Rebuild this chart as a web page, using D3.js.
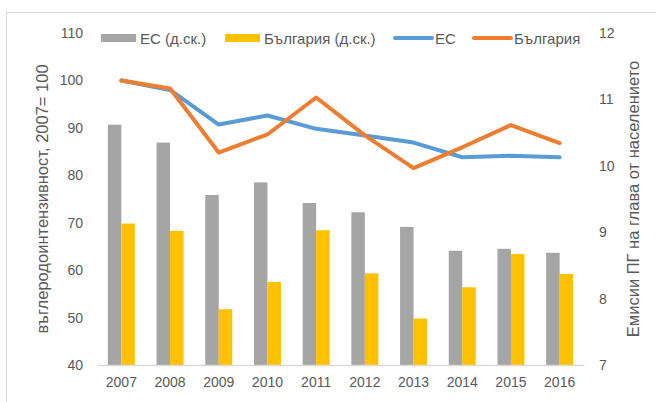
<!DOCTYPE html>
<html><head><meta charset="utf-8">
<script src="https://cdn.jsdelivr.net/npm/d3@7"></script>
<style>
html,body{margin:0;padding:0;background:#fff;}
svg{display:block;font-family:"Liberation Sans",Arial,sans-serif;}
</style></head>
<body>
<svg id="chart" width="656" height="402"></svg>
<script>
const years = ["2007","2008","2009","2010","2011","2012","2013","2014","2015","2016"];
// bars, right scale (t per capita)
const euBars = [10.62,10.35,9.56,9.75,9.44,9.30,9.08,8.72,8.75,8.69];
const bgBars = [9.13,9.02,7.84,8.25,9.03,8.38,7.70,8.17,8.67,8.37];
// lines, left scale (2007=100)
const euLine = [100,98.0,90.7,92.6,89.8,88.4,86.9,83.8,84.1,83.8];
const bgLine = [100,98.3,84.8,88.6,96.4,88.4,81.5,85.9,90.6,86.8];
const leftTicks = [40,50,60,70,80,90,100,110];
const rightTicks = [7,8,9,10,11,12];
const leftTitle = "въглеродоинтензивност, 2007= 100";
const rightTitle = "Емисии ПГ на глава от населението";
const legendItems = [
  {label:"ЕС (д.ск.)", type:"bar", color:"#a5a5a5"},
  {label:"България (д.ск.)", type:"bar", color:"#ffc000"},
  {label:"ЕС", type:"line", color:"#5b9bd5"},
  {label:"България", type:"line", color:"#ed7d31"}
];

(function(){
const svg = d3.select("#chart");
const textColor = "#595959";
const pL = 97, pR = 584, pT = 33, pB = 365;

// chart border
svg.append("rect").attr("x",6.5).attr("y",12.5).attr("width",660).attr("height",400)
  .attr("fill","none").attr("stroke","#d9d9d9").attr("stroke-width",1);

const x = d3.scaleBand().domain(years).range([pL,pR]).padding(0);
const xi = d3.scaleBand().domain(["eu","bg"]).range([x.bandwidth()*0.223, x.bandwidth()*0.777]).padding(0);
const yL = d3.scaleLinear().domain([40,110]).range([pB,pT]);
const yR = d3.scaleLinear().domain([7,12]).range([pB,pT]);

// bars
const g = svg.append("g");
g.selectAll("rect.eu").data(euBars).join("rect").attr("class","eu")
  .attr("x",(d,i)=>x(years[i])+xi("eu")).attr("width",xi.bandwidth())
  .attr("y",d=>yR(d)).attr("height",d=>yR(7)-yR(d)).attr("fill","#a5a5a5");
g.selectAll("rect.bg").data(bgBars).join("rect").attr("class","bg")
  .attr("x",(d,i)=>x(years[i])+xi("bg")).attr("width",xi.bandwidth())
  .attr("y",d=>yR(d)).attr("height",d=>yR(7)-yR(d)).attr("fill","#ffc000");

const ff = "Liberation Sans, Arial, sans-serif";
// x axis
const xAxis = svg.append("g").attr("transform",`translate(0,${pB})`)
  .call(d3.axisBottom(x).tickSize(0).tickPadding(12));
xAxis.select(".domain").attr("stroke","#d9d9d9").attr("stroke-width",1.3);
xAxis.selectAll("text").attr("fill",textColor).style("font-size","14px").style("font-family",ff);

// left axis
const yAxisL = svg.append("g").attr("transform",`translate(${pL},0)`)
  .call(d3.axisLeft(yL).tickValues(leftTicks).tickSize(0).tickPadding(14));
yAxisL.select(".domain").remove();
yAxisL.selectAll("text").attr("fill",textColor).style("font-size","14px").style("font-family",ff);

// right axis
const yAxisR = svg.append("g").attr("transform",`translate(${pR},0)`)
  .call(d3.axisRight(yR).tickValues(rightTicks).tickFormat(d3.format("d")).tickSize(0).tickPadding(15));
yAxisR.select(".domain").remove();
yAxisR.selectAll("text").attr("fill",textColor).style("font-size","14px").style("font-family",ff);

// lines
const line = d3.line().x((d,i)=>x(years[i])+x.bandwidth()/2).y(d=>yL(d));
svg.append("path").datum(euLine).attr("d",line).attr("fill","none")
  .attr("stroke","#5b9bd5").attr("stroke-width",4).attr("stroke-linejoin","round").attr("stroke-linecap","round");
svg.append("path").datum(bgLine).attr("d",line).attr("fill","none")
  .attr("stroke","#ed7d31").attr("stroke-width",4).attr("stroke-linejoin","round").attr("stroke-linecap","round");

// axis titles
svg.append("text").attr("transform",`translate(48,${(pT+pB)/2}) rotate(-90)`)
  .attr("text-anchor","middle").attr("fill",textColor).style("font-size","16.5px").text(leftTitle);
svg.append("text").attr("transform",`translate(639,${(pT+pB)/2}) rotate(-90)`)
  .attr("text-anchor","middle").attr("fill",textColor).style("font-size","16.5px").text(rightTitle);

// legend
const legX = [101,225,395,474];
const leg = svg.append("g");
legendItems.forEach((it,i)=>{
  const gx = legX[i], gy = 38;
  if(it.type==="bar"){
    leg.append("rect").attr("x",gx).attr("y",gy-4).attr("width",35).attr("height",8).attr("fill",it.color);
    leg.append("text").attr("x",gx+39).attr("y",gy+5.5).attr("fill",textColor).style("font-size","15px").text(it.label);
  } else {
    leg.append("line").attr("x1",gx).attr("x2",gx+37).attr("y1",gy).attr("y2",gy)
      .attr("stroke",it.color).attr("stroke-width",4).attr("stroke-linecap","round");
    leg.append("text").attr("x",gx+40).attr("y",gy+5.5).attr("fill",textColor).style("font-size","15px").text(it.label);
  }
});
})();
</script>
</body></html>
